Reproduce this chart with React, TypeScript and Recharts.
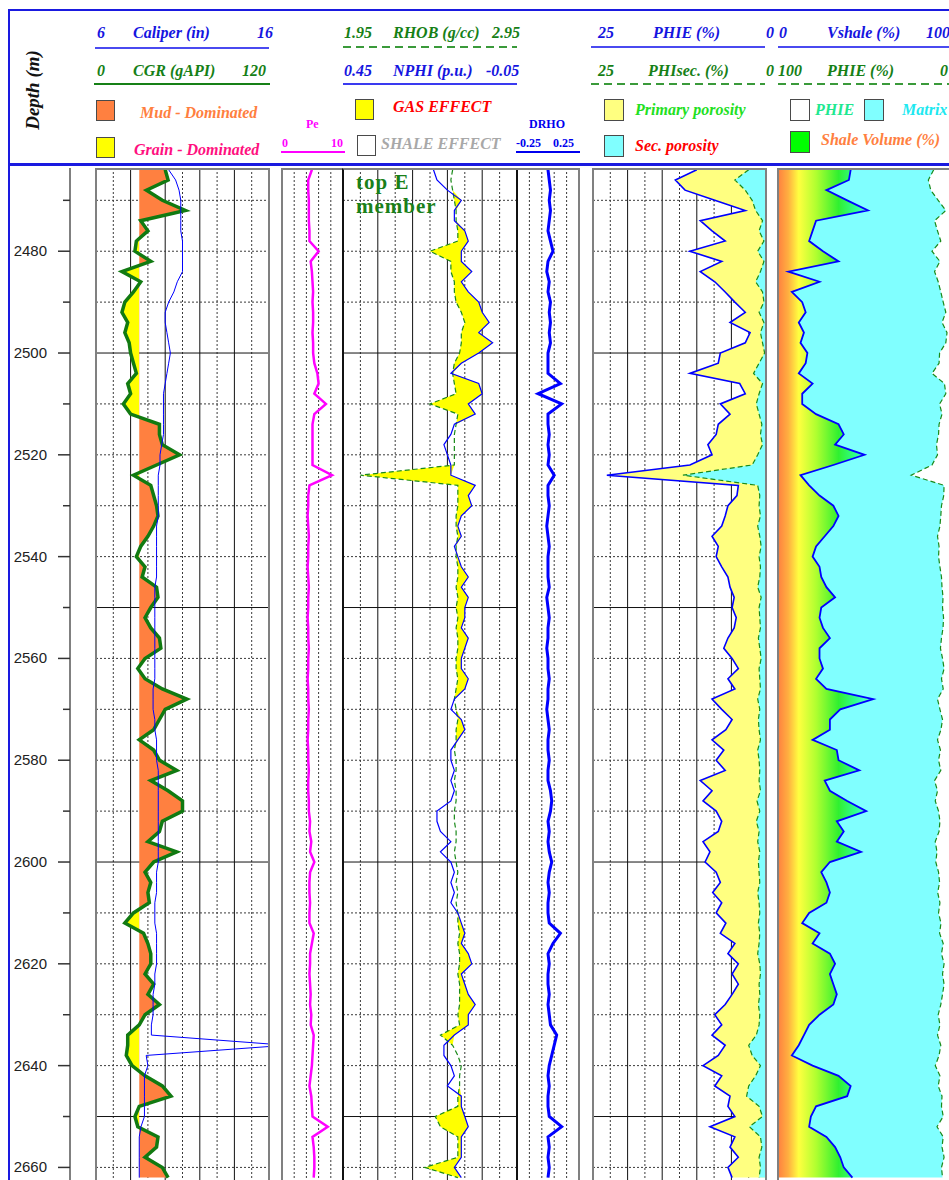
import React from 'react';
import { ComposedChart, Line, Area, XAxis, YAxis, CartesianGrid } from 'recharts';

// depth samples (m), one every 2 m
const DEPTH = [
  2464, 2466, 2468, 2470, 2472, 2474, 2476, 2478, 2480, 2482,
  2484, 2486, 2488, 2490, 2492, 2494, 2496, 2498, 2500, 2502,
  2504, 2506, 2508, 2510, 2512, 2514, 2516, 2518, 2520, 2522,
  2524, 2526, 2528, 2530, 2532, 2534, 2536, 2538, 2540, 2542,
  2544, 2546, 2548, 2550, 2552, 2554, 2556, 2558, 2560, 2562,
  2564, 2566, 2568, 2570, 2572, 2574, 2576, 2578, 2580, 2582,
  2584, 2586, 2588, 2590, 2592, 2594, 2596, 2598, 2600, 2602,
  2604, 2606, 2608, 2610, 2612, 2614, 2616, 2618, 2620, 2622,
  2624, 2626, 2628, 2630, 2632, 2634, 2636, 2638, 2640, 2642,
  2644, 2646, 2648, 2650, 2652, 2654, 2656, 2658, 2660, 2662,
];

// CGR (gAPI)
const CGR = [
  48, 50, 35, 46, 62, 31, 36, 28, 27, 38,
  18, 31, 26, 20, 18, 22, 20, 23, 24, 26,
  28, 22, 24, 19, 24, 44, 44, 46, 58, 42,
  26, 38, 40, 42, 43, 40, 36, 31, 28, 34,
  32, 42, 43, 38, 34, 38, 44, 45, 34, 29,
  34, 46, 63, 48, 44, 40, 30, 40, 44, 56,
  38, 50, 60, 60, 46, 44, 36, 56, 40, 34,
  38, 36, 37, 26, 20, 33, 36, 38, 38, 34,
  40, 36, 44, 34, 30, 22, 22, 21, 25, 34,
  46, 52, 30, 27, 29, 43, 42, 34, 46, 50,
];

// Caliper (in)
const CAL = [
  10.2, 10.6, 10.8, 10.9, 10.9, 10.9, 10.9, 11.0, 11.0, 11.0,
  11.0, 10.7, 10.5, 10.2, 10.0, 10.0, 10.1, 10.2, 10.3, 10.2,
  10.1, 10.0, 9.9, 9.9, 9.9, 9.9, 9.9, 9.8, 9.7, 9.7,
  9.6, 9.6, 9.6, 9.6, 9.6, 9.5, 9.5, 9.5, 9.5, 9.5,
  9.5, 9.4, 9.4, 9.4, 9.4, 9.4, 9.4, 9.4, 9.4, 9.4,
  9.4, 9.3, 9.3, 9.3, 9.4, 9.4, 9.5, 9.5, 9.5, 9.6,
  9.6, 9.6, 9.6, 9.6, 9.6, 9.6, 9.6, 9.6, 9.6, 9.5,
  9.5, 9.5, 9.4, 9.4, 9.4, 9.5, 9.5, 9.5, 9.5, 9.4,
  9.4, 9.3, 9.3, 9.3, 9.2, 9.2, 17, 8.9, 9.0, 8.8,
  8.8, 8.8, 8.8, 8.8, 8.6, 8.5, 8.5, 8.5, 8.5, 8.5,
];

// Pe (b/e), null = no reading
const PE = [
  4.9, 4.3, 4.3, 4.4, 4.4, 4.4, 4.5, 4.5, 6.0, 4.7,
  4.9, 5.0, 5.1, 5.0, 5.1, 5.1, 5.0, 5.1, 5.1, 5.3,
  5.8, 6.0, 5.3, 7.2, 5.3, 5.0, 5.0, 5.0, 5.0, 5.0,
  8.2, 4.5, 4.3, 4.3, 4.2, 4.3, 4.4, 4.3, 4.3, 4.2,
  4.3, 4.4, 4.3, 4.3, 4.2, 4.3, 4.3, 4.4, 4.3, 4.3,
  4.2, 4.3, 4.3, 4.4, 4.3, 4.3, 4.2, 4.3, 4.3, 4.4,
  4.3, 4.3, 4.4, 4.4, 4.6, 4.5, 4.8, 4.6, 5.3, 4.6,
  4.5, 4.5, 4.6, 4.5, 4.5, 5.2, 4.9, 4.6, 4.6, 4.5,
  4.6, 4.7, 4.6, 4.8, 4.7, 5.2, null, null, 4.9, 4.7,
  4.5, 4.8, 4.9, 5.0, 7.5, 5.0, 5.2, 5.3, 5.3, 5.2,
];

// RHOB (g/cc)
const RHOB = [
  2.58, 2.57, 2.58, 2.59, 2.60, 2.60, 2.61, 2.61, 2.45, 2.57,
  2.57, 2.59, 2.59, 2.60, 2.63, 2.65, 2.63, 2.63, 2.62, 2.59,
  2.58, 2.59, 2.60, 2.45, 2.61, 2.60, 2.59, 2.59, 2.59, 2.59,
  2.05, 2.61, 2.61, 2.61, 2.60, 2.60, 2.61, 2.60, 2.60, 2.61,
  2.61, 2.60, 2.61, 2.60, 2.61, 2.60, 2.61, 2.61, 2.60, 2.60,
  2.61, 2.60, 2.59, 2.60, 2.61, 2.60, 2.60, 2.59, 2.60, 2.60,
  2.59, 2.60, 2.60, 2.59, 2.59, 2.60, 2.60, 2.59, 2.60, 2.61,
  2.60, 2.61, 2.60, 2.61, 2.61, 2.62, 2.61, 2.62, 2.62, 2.61,
  2.62, 2.62, 2.62, 2.61, 2.62, 2.51, 2.58, 2.61, 2.63, 2.62,
  2.62, 2.61, 2.61, 2.48, 2.51, 2.61, 2.61, 2.61, 2.42, 2.61,
];

// NPHI (v/v)
const NPHI = [
  0.19, 0.18, 0.15, 0.11, 0.13, 0.13, 0.10, 0.09, 0.11, 0.11,
  0.08, 0.11, 0.09, 0.06, 0.05, 0.03, 0.06, 0.02, 0.06, 0.11,
  0.14, 0.06, 0.05, 0.09, 0.07, 0.13, 0.14, 0.16, 0.15, 0.14,
  0.14, 0.07, 0.09, 0.08, 0.11, 0.12, 0.11, 0.13, 0.12, 0.11,
  0.09, 0.11, 0.09, 0.10, 0.10, 0.11, 0.09, 0.10, 0.11, 0.11,
  0.09, 0.10, 0.13, 0.14, 0.11, 0.10, 0.12, 0.14, 0.14, 0.13,
  0.14, 0.13, 0.14, 0.18, 0.18, 0.17, 0.14, 0.17, 0.14, 0.13,
  0.14, 0.13, 0.14, 0.12, 0.11, 0.10, 0.11, 0.09, 0.08, 0.11,
  0.10, 0.09, 0.07, 0.09, 0.09, 0.13, 0.16, 0.16, 0.14, 0.13,
  0.15, 0.11, 0.11, 0.10, 0.09, 0.11, 0.11, 0.11, 0.13, 0.11,
];

// DRHO (g/cc)
const DRHO = [
  0.0, 0.01, 0.02, 0.01, 0.02, 0.01, 0.0, 0.02, 0.04, 0.0,
  -0.01, 0.01, 0.0, 0.02, 0.01, 0.02, 0.01, 0.02, 0.0, 0.0,
  0.0, 0.1, -0.08, 0.11, 0.0, 0.0, 0.01, 0.0, 0.01, 0.0,
  0.05, 0.0, 0.0, 0.01, 0.0, -0.01, 0.0, 0.01, 0.0, 0.0,
  0.0, 0.01, -0.01, 0.0, 0.01, 0.0, 0.0, -0.01, 0.0, 0.0,
  0.01, 0.0, 0.0, -0.01, 0.0, 0.01, 0.0, 0.0, 0.01, 0.0,
  0.0, 0.02, 0.03, 0.02, 0.0, 0.01, 0.0, 0.01, 0.03, 0.01,
  0.0, 0.01, 0.0, 0.0, 0.01, 0.1, 0.04, 0.0, 0.01, 0.0,
  0.0, 0.01, 0.0, 0.01, 0.02, 0.07, null, null, 0.01, 0.0,
  0.01, 0.0, 0.0, 0.01, 0.11, 0.0, 0.01, 0.0, 0.01, 0.0,
];

// PHIE (%)
const PHIE = [
  10.0, 13.1, 11.7, 7.4, 3.0, 9.5, 7.8, 5.9, 11.0, 6.4,
  9.5, 7.4, 5.9, 4.5, 3.0, 5.2, 2.3, 3.0, 6.6, 6.9,
  11.0, 3.8, 3.0, 6.6, 5.2, 6.9, 7.2, 8.4, 7.8, 11.0,
  23.0, 4.0, 4.2, 5.5, 5.9, 6.4, 7.8, 6.9, 7.2, 6.4,
  5.5, 5.2, 4.6, 4.9, 4.3, 4.6, 5.5, 6.1, 4.9, 4.0,
  5.5, 4.5, 7.8, 6.4, 4.9, 5.8, 7.8, 6.1, 7.2, 5.9,
  9.5, 7.8, 9.1, 7.2, 6.4, 6.9, 9.1, 8.1, 8.8, 7.2,
  6.6, 7.7, 6.4, 7.2, 5.8, 6.6, 4.5, 5.5, 4.0, 4.9,
  4.0, 4.9, 5.9, 7.4, 6.4, 7.8, 5.9, 6.9, 9.1, 6.4,
  7.4, 5.2, 5.5, 4.5, 8.1, 4.5, 5.2, 4.0, 5.5, 4.9,
];

// PHIsec (%)
const PHISEC = [
  2.5, 4.5, 3.0, 2.0, 1.5, 0.5, 1.0, 0.3, 1.2, 0.3,
  0.8, 1.5, 0.5, 0.3, 1.0, 0.3, 0.8, 0.5, 0.2, 1.0,
  1.8, 0.5, 1.0, 1.4, 1.0, 0.6, 0.8, 0.5, 1.2, 2.0,
  12.0, 1.2, 0.9, 1.0, 0.8, 1.2, 0.9, 0.7, 1.0, 0.8,
  0.9, 1.2, 0.7, 1.0, 0.9, 0.8, 1.1, 0.9, 0.7, 1.0,
  0.9, 0.8, 1.2, 0.9, 1.1, 1.0, 0.8, 1.2, 1.0, 0.9,
  1.0, 0.8, 1.3, 0.9, 1.4, 1.0, 1.2, 0.9, 1.1, 1.0,
  0.9, 1.2, 1.0, 0.9, 1.1, 0.9, 1.0, 1.2, 0.9, 0.8,
  1.0, 0.9, 1.1, 0.9, 1.0, 1.4, 2.5, 2.0, 0.8, 1.5,
  2.5, 2.8, 1.0, 0.5, 2.4, 0.8, 0.6, 1.0, 0.8, 1.0,
];

// Vshale (%)
const VSH = [
  42, 41, 28, 40, 52, 22, 20, 18, 26, 35,
  6, 24, 8, 14, 16, 12, 15, 13, 17, 16,
  12, 20, 14, 14, 22, 35, 38, 33, 50, 32,
  13, 18, 24, 32, 35, 32, 27, 22, 20, 24,
  25, 28, 33, 25, 24, 26, 30, 24, 24, 26,
  22, 28, 55, 36, 30, 30, 20, 34, 35, 47,
  27, 30, 40, 51, 34, 38, 34, 48, 30, 25,
  28, 30, 28, 18, 14, 24, 20, 30, 33, 30,
  32, 34, 32, 24, 18, 15, 12, 8, 20, 35,
  42, 40, 22, 19, 18, 28, 33, 36, 38, 43,
];

const DEPTH_TICKS = [
  2470, 2480, 2490, 2500, 2510, 2520, 2530, 2540, 2550, 2560,
  2570, 2580, 2590, 2600, 2610, 2620, 2630, 2640, 2650, 2660,
];
const MINOR_DEPTHS = [
  2470, 2480, 2490, 2510, 2520, 2530, 2540, 2560, 2570, 2580,
  2590, 2610, 2620, 2630, 2640, 2660,
];
const MAJOR_DEPTHS = [2500, 2550, 2600, 2650];

const CGR_CUTOFF = 30;
const CGR_MAX = 120;

const TRACK_TOP = 168;
const PLOT_H = 1020;
const PX_PER_M = 5.09;
const DEPTH_MIN = 2463.65;
const DEPTH_DOMAIN = [DEPTH_MIN, DEPTH_MIN + PLOT_H / PX_PER_M];

const T1 = { left: 96, width: 173 };
const TPE = { left: 282, width: 61 };
const T3 = { left: 343, width: 174 };
const TDR = { left: 517, width: 62 };
const T5 = { left: 593, width: 173 };
const T6 = { left: 778, width: 173 };

const GRAY = '#808080';
const BLUE = '#0000FF';
const GREEN = '#117a11';
const SERIF = '"Liberation Serif", "Times New Roman", serif';
const SANS = '"Liberation Sans", Arial, sans-serif';

// neutron plotted on the density scale (0.45 -> 1.95, -0.05 -> 2.95)
const nphiOnRhob = (n: number) => 1.95 + (0.45 - n) * 2;

const ROWS = DEPTH.map((depth, i) => ({
  depth,
  cgr: CGR[i],
  cgrFill: [CGR_CUTOFF, CGR[i]],
  cal: CAL[i],
  pe: PE[i],
  rhob: RHOB[i],
  nphi: NPHI[i],
  gas: [RHOB[i], Math.max(RHOB[i], nphiOnRhob(NPHI[i]))],
  drho: DRHO[i],
  phie: PHIE[i],
  phieFill: [0, PHIE[i]],
  phisec: PHISEC[i],
  phisecFill: [0, PHISEC[i]],
  vsh: VSH[i],
  vshFill: [0, VSH[i]],
  matrix: [VSH[i], 100 - PHIE[i]],
  phie6: 100 - PHIE[i],
}));

// track grid: vertical lines at tenths of the track width, depth lines from the depth axis
function gridParts(width: number, minor: number[], major: number[], withDepth: boolean) {
  const parts = [
    <CartesianGrid key="gv1" horizontal={false} verticalPoints={minor.map((f) => (f / 10) * width)} stroke="#3a3a3a" strokeDasharray="2 2" />,
  ];
  if (major.length) {
    parts.push(<CartesianGrid key="gv2" horizontal={false} verticalPoints={major.map((f) => (f / 10) * width)} stroke="#111" />);
  }
  if (withDepth) {
    parts.push(<CartesianGrid key="gh1" vertical={false} horizontalValues={MINOR_DEPTHS} stroke="#3a3a3a" strokeDasharray="2 2" />);
    parts.push(<CartesianGrid key="gh2" vertical={false} horizontalValues={MAJOR_DEPTHS} stroke="#111" />);
  }
  return parts;
}

function Track({ left, width, borderL, borderR, children }: any) {
  return (
    <div style={{ position: 'absolute', left, top: TRACK_TOP, width, height: PLOT_H }}>
      <ComposedChart layout="vertical" width={width} height={PLOT_H} data={ROWS} margin={{ top: 0, right: 0, bottom: 0, left: 0 }}>
        <YAxis type="number" dataKey="depth" domain={DEPTH_DOMAIN} allowDataOverflow hide />
        {children}
      </ComposedChart>
      <div
        style={{
          position: 'absolute', left: -1, top: 0, width: width + 2, height: PLOT_H, boxSizing: 'border-box',
          borderTop: `2px solid ${GRAY}`,
          borderLeft: borderL ? `2px solid ${borderL}` : 'none',
          borderRight: borderR ? `2px solid ${borderR}` : 'none',
          pointerEvents: 'none',
        }}
      />
    </div>
  );
}

const DepthTick = (props: any) => {
  const { x, y, payload } = props;
  const labelled = payload.value % 20 === 0;
  return (
    <g>
      <line x1={x - (labelled ? 12 : 7)} x2={x} y1={y} y2={y} stroke="#333" strokeWidth={1.5} />
      {labelled && (
        <text x={x - 23} y={y} dy={5} textAnchor="end" fontSize={15} fontFamily={SANS} fill="#222">
          {payload.value}
        </text>
      )}
    </g>
  );
};

function Txt({ x, y, color, size = 16, italic = true, children }: any) {
  return (
    <div
      style={{
        position: 'absolute', left: x, top: y, transform: 'translateY(-50%)', color,
        fontFamily: SERIF, fontWeight: 'bold', fontStyle: italic ? 'italic' : 'normal',
        fontSize: size, lineHeight: 1, whiteSpace: 'nowrap',
      }}
    >
      {children}
    </div>
  );
}

function Box({ x, y, w = 19, h = 21, fill }: any) {
  return (
    <div style={{ position: 'absolute', left: x, top: y, width: w, height: h, background: fill, border: '1.5px solid #4a4a4a', boxSizing: 'border-box' }} />
  );
}

function HLine({ x1, x2, y, color, w = 1.5, dashed = false }: any) {
  const bg = dashed
    ? `repeating-linear-gradient(90deg, ${color} 0px, ${color} 8px, transparent 8px, transparent 13px)`
    : color;
  return <div style={{ position: 'absolute', left: x1, top: y - w / 2, width: x2 - x1, height: w, background: bg }} />;
}

function Header() {
  const blue = '#1515E0';
  const green = '#168016';
  return (
    <>
      <div style={{ position: 'absolute', left: 8, top: 9, width: 1000, height: 157, boxSizing: 'border-box', borderTop: '2px solid #1a1ae0', borderLeft: '2px solid #1a1ae0', borderBottom: '3px solid #1a1ae0' }} />
      <div style={{ position: 'absolute', left: 8, top: 166, width: 2, height: 1020, background: '#1a1ae0' }} />
      <div
        style={{
          position: 'absolute', left: 33, top: 90, transform: 'translate(-50%, -50%) rotate(-90deg)',
          fontFamily: SERIF, fontWeight: 'bold', fontStyle: 'italic', fontSize: 19, whiteSpace: 'nowrap', color: '#111',
        }}
      >
        Depth (m)
      </div>

      {/* track 1 */}
      <Txt x={97} y={33} color={blue}>6</Txt>
      <Txt x={133} y={33} color={blue}>Caliper (in)</Txt>
      <Txt x={257} y={33} color={blue}>16</Txt>
      <HLine x1={95} x2={269} y={48} color="#4a4af0" />
      <Txt x={97} y={71} color={green}>0</Txt>
      <Txt x={133} y={71} color={green}>CGR (gAPI)</Txt>
      <Txt x={242} y={71} color={green}>120</Txt>
      <HLine x1={94} x2={270} y={84} color={green} w={2.5} />
      <Box x={96} y={100} fill="#FF8040" />
      <Txt x={140} y={113} color="#FF7F3F">Mud - Dominated</Txt>
      <Box x={96} y={137} fill="#FFFF00" />
      <Txt x={134} y={150} color="#FF1080">Grain - Dominated</Txt>

      {/* Pe */}
      <Txt x={306} y={124} color="#FF00FF" size={12} italic={false}>Pe</Txt>
      <Txt x={282} y={143} color="#FF00FF" size={12} italic={false}>0</Txt>
      <Txt x={331} y={143} color="#FF00FF" size={12} italic={false}>10</Txt>
      <HLine x1={281} x2={345} y={152} color="#FF00FF" w={2} />

      {/* track 3 */}
      <Txt x={344} y={33} color={green}>1.95</Txt>
      <Txt x={393} y={33} color={green}>RHOB (g/cc)</Txt>
      <Txt x={492} y={33} color={green}>2.95</Txt>
      <HLine x1={343} x2={517} y={47} color="#3a9a3a" dashed />
      <Txt x={344} y={71} color={blue}>0.45</Txt>
      <Txt x={393} y={71} color={blue}>NPHI (p.u.)</Txt>
      <Txt x={486} y={71} color={blue}>-0.05</Txt>
      <HLine x1={343} x2={517} y={84} color="#3a3af0" />
      <Box x={355} y={99} fill="#FFFF00" />
      <Txt x={393} y={107} color="#FF0000">GAS EFFECT</Txt>
      <Box x={357} y={135} fill="#FFFFFF" />
      <Txt x={381} y={144} color="#A8A8A8">SHALE EFFECT</Txt>

      {/* DRHO */}
      <Txt x={529} y={124} color="#0000EE" size={12} italic={false}>DRHO</Txt>
      <Txt x={516} y={143} color="#0000EE" size={12} italic={false}>-0.25</Txt>
      <Txt x={553} y={143} color="#0000EE" size={12} italic={false}>0.25</Txt>
      <HLine x1={516} x2={580} y={152} color="#0000EE" w={2.5} />

      {/* track 5 */}
      <Txt x={598} y={33} color={blue}>25</Txt>
      <Txt x={653} y={33} color={blue}>PHIE (%)</Txt>
      <Txt x={766} y={33} color={blue}>0</Txt>
      <HLine x1={591} x2={765} y={47} color="#4a4af0" />
      <Txt x={598} y={71} color={green}>25</Txt>
      <Txt x={648} y={71} color={green}>PHIsec. (%)</Txt>
      <Txt x={766} y={71} color={green}>0</Txt>
      <HLine x1={591} x2={765} y={84} color="#3a9a3a" dashed />
      <Box x={604} y={99} w={20} h={22} fill="#FFFF80" />
      <Txt x={635} y={110} color="#22E022">Primary porosity</Txt>
      <Box x={604} y={135} w={20} h={22} fill="#80FFFF" />
      <Txt x={635} y={146} color="#FF0000">Sec. porosity</Txt>

      {/* track 6 */}
      <Txt x={779} y={33} color={blue}>0</Txt>
      <Txt x={827} y={33} color={blue}>Vshale (%)</Txt>
      <Txt x={926} y={33} color={blue}>100</Txt>
      <HLine x1={778} x2={960} y={47} color="#4a4af0" />
      <Txt x={778} y={71} color={green}>100</Txt>
      <Txt x={827} y={71} color={green}>PHIE (%)</Txt>
      <Txt x={940} y={71} color={green}>0</Txt>
      <HLine x1={778} x2={960} y={84} color="#3a9a3a" dashed />
      <Box x={790} y={99} w={20} h={22} fill="#FFFFFF" />
      <Txt x={815} y={110} color="#20E890">PHIE</Txt>
      <Box x={864} y={99} w={20} h={22} fill="#80FFFF" />
      <Txt x={902} y={110} color="#20E8F0">Matrix</Txt>
      <Box x={790} y={131} w={20} h={22} fill="#00FF00" />
      <Txt x={821} y={140} color="#FF8040">Shale Volume (%)</Txt>
    </>
  );
}

export default function App() {
  return (
    <div style={{ position: 'absolute', left: 0, top: 0, width: 949, height: 1180, overflow: 'hidden', background: '#fff' }}>
      <Header />

      {/* depth axis */}
      <div style={{ position: 'absolute', left: 0, top: TRACK_TOP, width: 72, height: PLOT_H }}>
        <ComposedChart layout="vertical" width={72} height={PLOT_H} data={ROWS} margin={{ top: 0, right: 0, bottom: 0, left: 0 }}>
          <XAxis type="number" domain={[0, 1]} hide />
          <YAxis
            type="number" dataKey="depth" domain={DEPTH_DOMAIN} allowDataOverflow width={70}
            ticks={DEPTH_TICKS} interval={0} tickLine={false} tickSize={0} tickMargin={0}
            axisLine={{ stroke: GRAY, strokeWidth: 2 }} tick={(p: any) => <DepthTick {...p} />}
          />
          <Line dataKey={() => 0} stroke="none" dot={false} isAnimationActive={false} />
        </ComposedChart>
      </div>

      {/* track 1: CGR + caliper */}
      <Track left={T1.left} width={T1.width} borderL={GRAY} borderR={GRAY}>
        <defs>
          <linearGradient id="cgrFill" gradientUnits="userSpaceOnUse" x1={0} y1={0} x2={T1.width} y2={0}>
            <stop offset={CGR_CUTOFF / CGR_MAX} stopColor="#FFFF00" />
            <stop offset={CGR_CUTOFF / CGR_MAX} stopColor="#FF8040" />
          </linearGradient>
        </defs>
        {gridParts(T1.width, [1, 3, 5, 7, 9], [2, 4, 6, 8], true)}
        <XAxis xAxisId="cgr" type="number" domain={[0, CGR_MAX]} hide />
        <XAxis xAxisId="cal" type="number" domain={[6, 16]} allowDataOverflow hide />
        <Area xAxisId="cgr" dataKey="cgrFill" stroke="none" fill="url(#cgrFill)" fillOpacity={1} isAnimationActive={false} />
        <Line xAxisId="cgr" dataKey="cgr" stroke={GREEN} strokeWidth={3.5} dot={false} isAnimationActive={false} />
        <Line xAxisId="cal" dataKey="cal" stroke={BLUE} strokeWidth={1} dot={false} isAnimationActive={false} />
      </Track>

      {/* Pe */}
      <Track left={TPE.left} width={TPE.width} borderL={GRAY}>
        {gridParts(TPE.width, [2, 4, 6, 8], [], false)}
        <XAxis xAxisId="pe" type="number" domain={[0, 10]} hide />
        <Line xAxisId="pe" dataKey="pe" stroke="#FF00FF" strokeWidth={2.5} dot={false} isAnimationActive={false} />
      </Track>

      {/* track 3: RHOB / NPHI */}
      <Track left={T3.left} width={T3.width} borderL="#111" borderR="#111">
        {gridParts(T3.width, [1, 3, 5, 7, 9], [2, 4, 6, 8], true)}
        <XAxis xAxisId="rhob" type="number" domain={[1.95, 2.95]} allowDataOverflow hide />
        <XAxis xAxisId="nphi" type="number" domain={[-0.05, 0.45]} reversed allowDataOverflow hide />
        <Area xAxisId="rhob" dataKey="gas" stroke="none" fill="#FFFF00" fillOpacity={1} isAnimationActive={false} />
        <Line xAxisId="rhob" dataKey="rhob" stroke="#1a8a1a" strokeWidth={1.2} strokeDasharray="5 3" dot={false} isAnimationActive={false} />
        <Line xAxisId="nphi" dataKey="nphi" stroke={BLUE} strokeWidth={1.2} dot={false} isAnimationActive={false} />
      </Track>

      {/* DRHO */}
      <Track left={TDR.left} width={TDR.width} borderR={GRAY}>
        {gridParts(TDR.width, [2, 4, 6, 8], [], false)}
        <XAxis xAxisId="drho" type="number" domain={[-0.25, 0.25]} hide />
        <Line xAxisId="drho" dataKey="drho" stroke={BLUE} strokeWidth={3} dot={false} isAnimationActive={false} />
      </Track>

      {/* track 5: porosity */}
      <Track left={T5.left} width={T5.width} borderL={GRAY} borderR={GRAY}>
        {gridParts(T5.width, [1, 3, 5, 7, 9], [2, 4, 6, 8], true)}
        <XAxis xAxisId="phi" type="number" domain={[0, 25]} reversed hide />
        <Area xAxisId="phi" dataKey="phieFill" stroke="none" fill="#FFFF80" fillOpacity={1} isAnimationActive={false} />
        <Area xAxisId="phi" dataKey="phisecFill" stroke="none" fill="#80FFFF" fillOpacity={1} isAnimationActive={false} />
        <Line xAxisId="phi" dataKey="phisec" stroke="#1a8a1a" strokeWidth={1.2} strokeDasharray="5 3" dot={false} isAnimationActive={false} />
        <Line xAxisId="phi" dataKey="phie" stroke={BLUE} strokeWidth={1.6} dot={false} isAnimationActive={false} />
      </Track>

      {/* track 6: volumes */}
      <Track left={T6.left} width={T6.width} borderL={GRAY}>
        <defs>
          <linearGradient id="vshFill" gradientUnits="userSpaceOnUse" x1={0} y1={0} x2={T6.width} y2={0}>
            <stop offset={0} stopColor="#FF8040" />
            <stop offset={0.06} stopColor="#FFB040" />
            <stop offset={0.12} stopColor="#FFFF40" />
            <stop offset={0.22} stopColor="#B0FF30" />
            <stop offset={0.35} stopColor="#30F030" />
            <stop offset={0.45} stopColor="#30FF90" />
            <stop offset={0.58} stopColor="#80FFFF" />
          </linearGradient>
        </defs>
        <XAxis xAxisId="vsh" type="number" domain={[0, 100]} hide />
        <Area xAxisId="vsh" dataKey="vshFill" stroke="none" fill="url(#vshFill)" fillOpacity={1} isAnimationActive={false} />
        <Area xAxisId="vsh" dataKey="matrix" stroke="none" fill="#80FFFF" fillOpacity={1} isAnimationActive={false} />
        <Line xAxisId="vsh" dataKey="phie6" stroke="#1a8a1a" strokeWidth={1.2} strokeDasharray="5 3" dot={false} isAnimationActive={false} />
        <Line xAxisId="vsh" dataKey="vsh" stroke={BLUE} strokeWidth={1.8} dot={false} isAnimationActive={false} />
      </Track>

      <div
        style={{
          position: 'absolute', left: 356, top: 170, color: '#1a801a', fontFamily: SERIF, fontWeight: 'bold',
          fontSize: 21, lineHeight: '24px', letterSpacing: 1,
        }}
      >
        top E<br />member
      </div>
    </div>
  );
}
